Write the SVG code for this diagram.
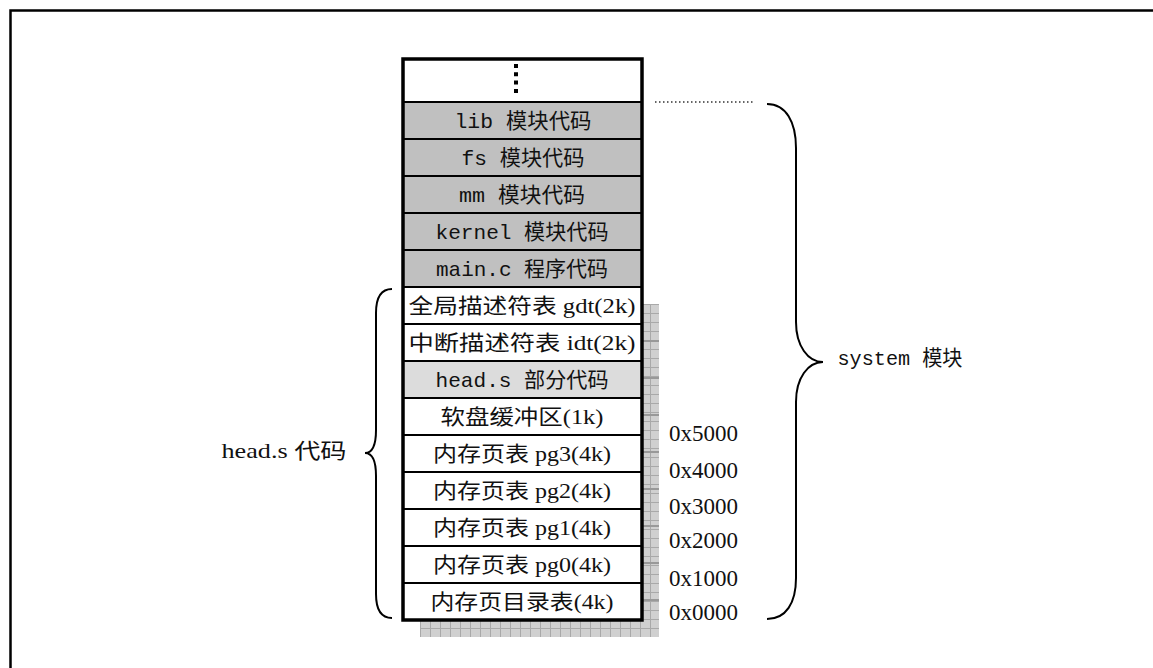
<svg xmlns="http://www.w3.org/2000/svg" width="1153" height="668" viewBox="0 0 1153 668">
<style>
.row{stroke:#000;stroke-width:2}
.g{fill:#c0c0c0}
.lg{fill:#dcdcdc}
.w{fill:#fff}
.t{font-family:"Liberation Mono","Noto Sans CJK SC",monospace;font-size:21px;fill:#111;text-anchor:middle}
.s{font-family:"Liberation Serif","Noto Sans CJK SC",serif;font-size:21px;fill:#111;text-anchor:middle}
.a{font-family:"Liberation Serif",serif;font-size:23px;fill:#111}
.brace{fill:none;stroke:#000;stroke-width:2}
</style>
<defs>
<pattern id="grid" width="10" height="9" patternUnits="userSpaceOnUse" x="420" y="304">
<rect width="10" height="9" fill="#d0d0d0"/>
<path d="M0,0.5H10M0.5,0V9" stroke="#a9a9a9" stroke-width="1"/>
</pattern>
</defs>
<rect width="1153" height="668" fill="#fff"/>
<rect x="10.5" y="10.5" width="1200" height="700" fill="none" stroke="#000" stroke-width="2.5"/>
<g id="shadow">
<rect x="643" y="304" width="16" height="333" fill="url(#grid)"/>
<rect x="420" y="620" width="239" height="17" fill="url(#grid)"/>
<path d="M643,341H659M643,378H659M643,415H659M643,452H659M643,489H659M643,526H659M643,563H659M643,600H659" stroke="#999" stroke-width="2"/>
</g>
<g id="row-dots"><rect class="row w" x="403" y="59" width="239" height="43"/>
<line x1="516" y1="64" x2="516" y2="94" stroke="#000" stroke-width="4" stroke-dasharray="4 4.3"/></g>
<g id="row-lib"><rect class="row g" x="403" y="102" width="239" height="37"/><text class="t" x="523" y="128" textLength="137" lengthAdjust="spacingAndGlyphs">lib 模块代码</text></g>
<g id="row-fs"><rect class="row g" x="403" y="139" width="239" height="37"/><text class="t" x="523" y="165" textLength="123" lengthAdjust="spacingAndGlyphs">fs 模块代码</text></g>
<g id="row-mm"><rect class="row g" x="403" y="176" width="239" height="37"/><text class="t" x="522" y="202" textLength="126" lengthAdjust="spacingAndGlyphs">mm 模块代码</text></g>
<g id="row-kernel"><rect class="row g" x="403" y="213" width="239" height="37"/><text class="t" x="522" y="239" textLength="173" lengthAdjust="spacingAndGlyphs">kernel 模块代码</text></g>
<g id="row-main"><rect class="row g" x="403" y="250" width="239" height="37"/><text class="t" x="522" y="276" textLength="172" lengthAdjust="spacingAndGlyphs">main.c 程序代码</text></g>
<g id="row-gdt"><rect class="row w" x="403" y="287" width="239" height="37"/><text class="s" x="522" y="313" textLength="227" lengthAdjust="spacingAndGlyphs">全局描述符表 gdt(2k)</text></g>
<g id="row-idt"><rect class="row w" x="403" y="324" width="239" height="37"/><text class="s" x="522" y="350" textLength="227" lengthAdjust="spacingAndGlyphs">中断描述符表 idt(2k)</text></g>
<g id="row-head"><rect class="row lg" x="403" y="361" width="239" height="37"/><text class="t" x="522" y="387" textLength="173" lengthAdjust="spacingAndGlyphs">head.s 部分代码</text></g>
<g id="row-floppy"><rect class="row w" x="403" y="398" width="239" height="37"/><text class="s" x="522" y="424" textLength="163" lengthAdjust="spacingAndGlyphs">软盘缓冲区(1k)</text></g>
<g id="row-pg3"><rect class="row w" x="403" y="435" width="239" height="37"/><text class="s" x="522" y="461" textLength="178" lengthAdjust="spacingAndGlyphs">内存页表 pg3(4k)</text></g>
<g id="row-pg2"><rect class="row w" x="403" y="472" width="239" height="37"/><text class="s" x="522" y="498" textLength="178" lengthAdjust="spacingAndGlyphs">内存页表 pg2(4k)</text></g>
<g id="row-pg1"><rect class="row w" x="403" y="509" width="239" height="37"/><text class="s" x="522" y="535" textLength="178" lengthAdjust="spacingAndGlyphs">内存页表 pg1(4k)</text></g>
<g id="row-pg0"><rect class="row w" x="403" y="546" width="239" height="37"/><text class="s" x="522" y="572" textLength="178" lengthAdjust="spacingAndGlyphs">内存页表 pg0(4k)</text></g>
<g id="row-pgdir"><rect class="row w" x="403" y="583" width="239" height="37"/><text class="s" x="522" y="609" textLength="183" lengthAdjust="spacingAndGlyphs">内存页目录表(4k)</text></g>
<rect id="stack-outline" x="403" y="59" width="239" height="561" fill="none" stroke="#000" stroke-width="3.5"/>
<g id="addresses">
<text class="a" x="669" y="441">0x5000</text>
<text class="a" x="669" y="478">0x4000</text>
<text class="a" x="669" y="514">0x3000</text>
<text class="a" x="669" y="548">0x2000</text>
<text class="a" x="669" y="586">0x1000</text>
<text class="a" x="669" y="620">0x0000</text>
</g>
<g id="connectors">
<line x1="655" y1="102" x2="753" y2="102" stroke="#333" stroke-width="1.3" stroke-dasharray="1.5 2.5"/>
<path class="brace" d="M392,289 C381,289 376,298 376,313 L376,430 C376,445 372,453 365,453 C372,453 376,461 376,476 L376,594 C376,609 381,618 392,618"/>
<path class="brace" d="M767,104 C786,104 796,122 796,148 L796,322 C796,346 808,362 823,362 C808,362 796,378 796,402 L796,578 C796,603 786,619 767,619"/>
</g>
<g id="label-head"><text class="s" x="284" y="458" textLength="125" lengthAdjust="spacingAndGlyphs" font-size="21">head.s 代码</text></g>
<g id="label-system"><text class="t" x="900" y="365" textLength="125" lengthAdjust="spacingAndGlyphs">system 模块</text></g>
</svg>
